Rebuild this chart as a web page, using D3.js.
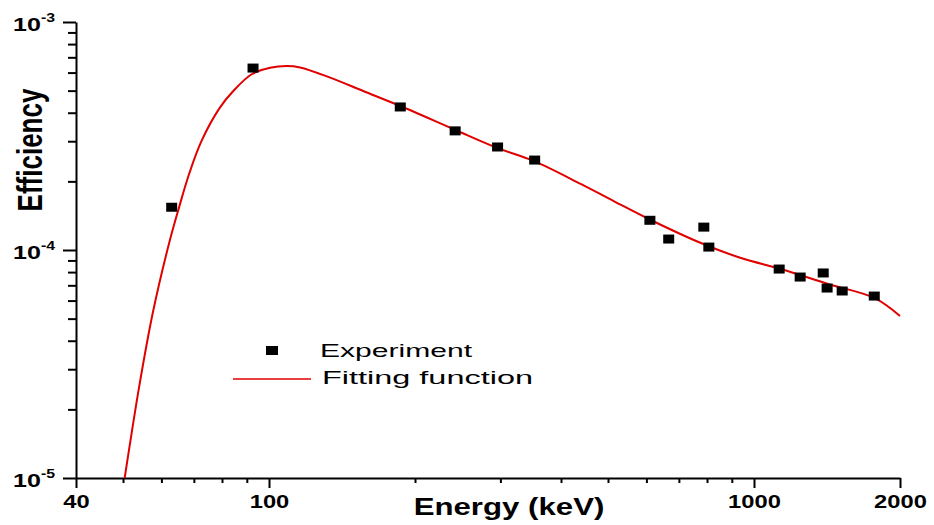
<!DOCTYPE html>
<html>
<head>
<meta charset="utf-8">
<script src="https://cdn.jsdelivr.net/npm/d3@7"></script>
<style>
  body { margin: 0; background: #fff; }
  svg { display: block; }
  text { font-family: "Liberation Sans", Arial, sans-serif; fill: #000; }
</style>
</head>
<body>
<script>
// measured points (keV, efficiency)
const expEnergy = [63.0, 92.7, 186.5, 242, 296, 353, 610, 667, 788, 807, 1127, 1245, 1389, 1415, 1520, 1770];
const expEff = [1.54e-4, 6.28e-4, 4.24e-4, 3.33e-4, 2.83e-4, 2.48e-4, 1.35e-4, 1.117e-4, 1.26e-4, 1.03e-4,
                0.825e-4, 0.761e-4, 0.793e-4, 0.681e-4, 0.661e-4, 0.628e-4];

// fitted curve
const fitEnergy = [50.4, 54.1, 57.7, 62.4, 65.2, 68.4, 72.6, 79.2, 84.4, 92.1, 100.5, 108.8, 115.9,
                   133.7, 156.4, 186.6, 242.3, 295.9, 351.2, 439.1, 513.6, 612.6, 777.2, 940, 1137, 1422, 1770, 2000];
const fitEff = [1.0e-5, 2.58e-5, 5.40e-5, 1.095e-4, 1.53e-4, 2.15e-4, 3.01e-4, 4.21e-4, 4.98e-4,
                5.90e-4, 6.30e-4, 6.41e-4, 6.32e-4, 5.70e-4, 4.98e-4, 4.28e-4, 3.36e-4, 2.80e-4, 2.46e-4, 1.95e-4,
                1.64e-4, 1.354e-4, 1.073e-4, 0.922e-4, 0.825e-4, 0.709e-4, 0.616e-4, 0.513e-4];

const xMajor = [40, 100, 1000, 2000];
const xMinor = [50, 60, 70, 80, 90, 200, 300, 400, 500, 600, 700, 800, 900];
const yMajor = [1e-5, 1e-4, 1e-3];
const yMajorExp = ["-5", "-4", "-3"];
const yMinor = [2e-5, 3e-5, 4e-5, 5e-5, 6e-5, 7e-5, 8e-5, 9e-5, 2e-4, 3e-4, 4e-4, 5e-4, 6e-4, 7e-4, 8e-4, 9e-4];

const legendLabels = ["Experiment", "Fitting function"];

const width = 934, height = 525;
const plotLeft = 76, plotRight = 900, plotTop = 22, plotBottom = 478;
const red = "#e00000";
const sx = 1.32; // horizontal stretch of the original picture

const svg = d3.select("body").append("svg")
    .attr("width", width)
    .attr("height", height);

const x = d3.scaleLog().domain([40, 2000]).range([plotLeft, plotRight]);
const y = d3.scaleLog().domain([1e-5, 1e-3]).range([plotBottom, plotTop]);

// x axis: minor ticks first, then major with labels
svg.append("g")
    .attr("transform", "translate(0," + plotBottom + ")")
    .call(d3.axisBottom(x).tickValues(xMinor).tickSize(5).tickSizeOuter(0).tickFormat(""))
    .call(g => g.select(".domain").remove())
    .selectAll("line").attr("stroke-width", 2);

const xAx = svg.append("g")
    .attr("transform", "translate(0," + plotBottom + ")")
    .call(d3.axisBottom(x).tickValues(xMajor).tickSize(10).tickSizeOuter(0).tickFormat(d3.format("d")));
xAx.select(".domain").attr("stroke-width", 2);
xAx.selectAll("line").attr("stroke-width", 2);
xAx.selectAll("text")
    .attr("y", 0).attr("dy", null)
    .attr("transform", "translate(0,30) scale(" + sx + ",1)")
    .style("font-size", "18px")
    .style("font-weight", "bold")
    .style("font-family", "'Liberation Sans', Arial, sans-serif")
    .attr("fill", "#000");

// y axis
svg.append("g")
    .attr("transform", "translate(" + plotLeft + ",0)")
    .call(d3.axisLeft(y).tickValues(yMinor).tickSize(8).tickSizeOuter(0).tickFormat(""))
    .call(g => g.select(".domain").remove())
    .selectAll("line").attr("stroke-width", 2);

const yAx = svg.append("g")
    .attr("transform", "translate(" + plotLeft + ",0)")
    .call(d3.axisLeft(y).tickValues(yMajor).tickSize(13).tickSizeOuter(0).tickFormat(""));
yAx.select(".domain").attr("stroke-width", 2);
yAx.selectAll("line").attr("stroke-width", 2);
yAx.selectAll(".tick").each(function(d, i) {
    const t = d3.select(this).select("text")
        .attr("x", 0).attr("dy", null).attr("y", 0)
        .attr("text-anchor", "end")
        .attr("transform", "translate(-21,8) scale(" + sx + ",1)")
        .style("font-family", "'Liberation Sans', Arial, sans-serif")
        .style("font-weight", "bold")
        .attr("fill", "#000");
    t.append("tspan").style("font-size", "19px").text("10");
    t.append("tspan").style("font-size", "12px").attr("dy", -9).text(yMajorExp[i]);
});

// axis titles
svg.append("text")
    .attr("text-anchor", "middle")
    .attr("transform", "translate(509,515) scale(1.3,1)")
    .style("font-size", "24px")
    .style("font-weight", "bold")
    .text("Energy (keV)");

svg.append("text")
    .attr("text-anchor", "middle")
    .attr("transform", "translate(42,150) scale(1.35,1) rotate(-90)")
    .style("font-size", "26px")
    .style("font-weight", "bold")
    .text("Efficiency");

// fitted curve
const fitData = fitEnergy.map((e, i) => ({ e: e, v: fitEff[i] }));
const line = d3.line()
    .x(d => x(d.e))
    .y(d => y(d.v))
    .curve(d3.curveCatmullRom.alpha(0.5));

svg.append("path")
    .datum(fitData)
    .attr("d", line)
    .attr("fill", "none")
    .attr("stroke", red)
    .attr("stroke-width", 2);

// experiment markers
const expData = expEnergy.map((e, i) => ({ e: e, v: expEff[i] }));
svg.selectAll("rect.pt")
    .data(expData)
    .enter().append("rect")
    .attr("class", "pt")
    .attr("x", d => x(d.e) - 5.5)
    .attr("y", d => y(d.v) - 4.5)
    .attr("width", 11)
    .attr("height", 9)
    .attr("fill", "#000");

// legend
const legend = svg.append("g");
legend.append("rect")
    .attr("x", 266).attr("y", 346)
    .attr("width", 12).attr("height", 9)
    .attr("fill", "#000");
legend.append("line")
    .attr("x1", 233).attr("x2", 311)
    .attr("y1", 379).attr("y2", 379)
    .attr("stroke", red)
    .attr("stroke-width", 1.6);
legend.append("text")
    .attr("x", 320).attr("y", 357)
    .attr("textLength", 152)
    .attr("lengthAdjust", "spacingAndGlyphs")
    .style("font-size", "19px")
    .text(legendLabels[0]);
legend.append("text")
    .attr("x", 322).attr("y", 384)
    .attr("textLength", 211)
    .attr("lengthAdjust", "spacingAndGlyphs")
    .style("font-size", "19px")
    .text(legendLabels[1]);
</script>
</body>
</html>
